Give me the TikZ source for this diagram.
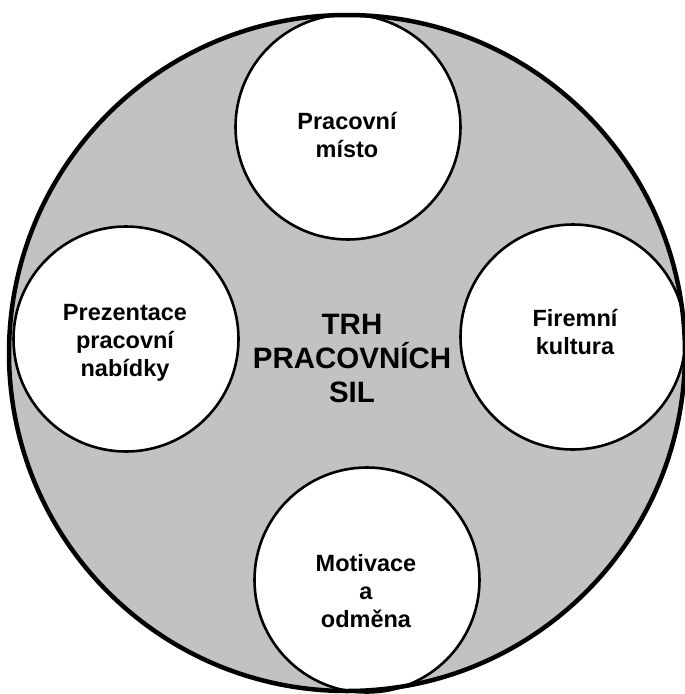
\documentclass[tikz,border=0pt]{standalone}
\usepackage{fontspec}
\setmainfont{Liberation Sans}
\begin{document}
\begin{tikzpicture}[x=1pt,y=-1pt,
  field/.style={circle, fill=black!24, minimum size=676pt, inner sep=0pt},
  rim/.style={line width=4.5pt},
  topic/.style={circle, draw, line width=2.6pt, fill=white, minimum size=225pt, inner sep=0pt},
  topictext/.style={align=center, font=\bfseries\fontsize{23.5}{28}\selectfont},
  maintext/.style={align=center, font=\bfseries\fontsize{29.5}{34}\selectfont}
]
\useasboundingbox (0,0) rectangle (685,694);

% grey field of the labour market
\node[field] (market) at (347,353) {};

% the four topics round it
\node[topic] (place)   at (348,127) {};
\node[topic] (offer)   at (126,339) {};
\node[topic] (culture) at (573,337) {};
\node[topic] (reward)  at (367,580) {};

% outer rim drawn last so it stays on top
\draw[rim] (market.center) circle[radius=338pt];

% texts
\node[maintext] (title) at (352,358) {TRH\\PRACOVNÍCH\\SIL};
\node[topictext] (placet)   at (347,135) {Pracovní\\místo};
\node[topictext] (offert)   at (125,343) {Prezentace\\pracovní\\nabídky};
\node[topictext] (culturet) at (575,332) {Firemní\\kultura};
\node[topictext] (rewardt)  at (366,591) {Motivace\\a\\odměna};
\end{tikzpicture}
\end{document}
